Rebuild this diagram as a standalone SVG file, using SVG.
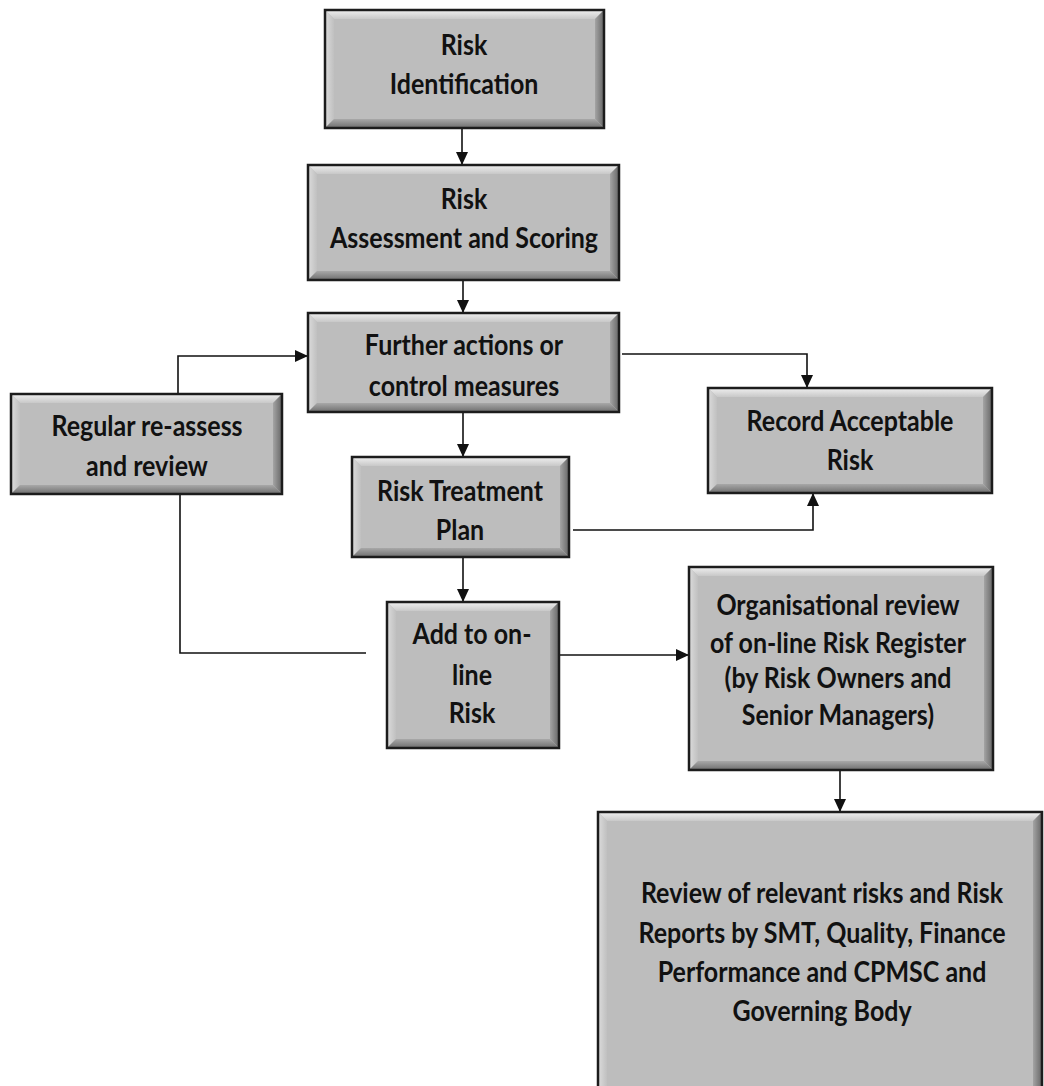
<svg xmlns="http://www.w3.org/2000/svg" width="1044" height="1086" viewBox="0 0 1044 1086">
<defs>
<linearGradient id="gTop" x1="0" y1="0" x2="0" y2="1"><stop offset="0" stop-color="#f0f0f0"/><stop offset="1" stop-color="#c8c8c8"/></linearGradient>
<linearGradient id="gBot" x1="0" y1="0" x2="0" y2="1"><stop offset="0" stop-color="#a8a8a8"/><stop offset="1" stop-color="#6e6e6e"/></linearGradient>
<linearGradient id="gLeft" x1="0" y1="0" x2="1" y2="0"><stop offset="0" stop-color="#dcdcdc"/><stop offset="1" stop-color="#c0c0c0"/></linearGradient>
<linearGradient id="gRight" x1="0" y1="0" x2="1" y2="0"><stop offset="0" stop-color="#a4a4a4"/><stop offset="1" stop-color="#666666"/></linearGradient>
<marker id="ah" markerUnits="userSpaceOnUse" markerWidth="14" markerHeight="14" viewBox="0 0 14 14" refX="13" refY="7" orient="auto">
<path d="M0,1 L13,7 L0,13 Z" fill="#111"/>
</marker>
</defs>
<style>
.face{fill:#bdbdbd}
.bt{fill:url(#gTop)}
.bb{fill:url(#gBot)}
.bl{fill:url(#gLeft)}
.br{fill:url(#gRight)}
.frame{fill:none;stroke:#1c1c1c;stroke-width:2.5}
.lbl{font-family:Lato,"Open Sans","Liberation Sans",sans-serif;font-weight:700;font-size:25px;fill:#111;text-anchor:middle}
.con{fill:none;stroke:#111;stroke-width:1.6}
</style>

<g id="connectors">
<path class="con" d="M462,128 V165" marker-end="url(#ah)"/>
<path class="con" d="M463,280 V313" marker-end="url(#ah)"/>
<path class="con" d="M463,412 V457" marker-end="url(#ah)"/>
<path class="con" d="M463,557 V602" marker-end="url(#ah)"/>
<path class="con" d="M622,354 H807 V388" marker-end="url(#ah)"/>
<path class="con" d="M573,530 H813 V493" marker-end="url(#ah)"/>
<path class="con" d="M178,394 V356 H308" marker-end="url(#ah)"/>
<path class="con" d="M180,494 V653 H366"/>
<path class="con" d="M559,655 H689" marker-end="url(#ah)"/>
<path class="con" d="M840,770 V812" marker-end="url(#ah)"/>
</g>

<g id="risk-identification">
<rect class="face" x="325" y="10" width="279" height="118"/>
<polygon class="bt" points="325,10 604,10 595,19 334,19"/>
<polygon class="bl" points="325,10 334,19 334,119 325,128"/>
<polygon class="bb" points="325,128 334,119 595,119 604,128"/>
<polygon class="br" points="604,10 604,128 595,119 595,19"/>
<rect class="frame" x="325" y="10" width="279" height="118"/>
<text class="lbl" transform="translate(464,55) scale(1,1.12)">Risk</text>
<text class="lbl" transform="translate(464,94) scale(1,1.12)">Identification</text>
</g>

<g id="risk-assessment">
<rect class="face" x="308" y="165" width="311" height="115"/>
<polygon class="bt" points="308,165 619,165 610,174 317,174"/>
<polygon class="bl" points="308,165 317,174 317,271 308,280"/>
<polygon class="bb" points="308,280 317,271 610,271 619,280"/>
<polygon class="br" points="619,165 619,280 610,271 610,174"/>
<rect class="frame" x="308" y="165" width="311" height="115"/>
<text class="lbl" transform="translate(464,209) scale(1,1.12)">Risk</text>
<text class="lbl" transform="translate(464,248) scale(1,1.12)">Assessment and Scoring</text>
</g>

<g id="further-actions">
<rect class="face" x="308" y="313" width="311" height="99"/>
<polygon class="bt" points="308,313 619,313 610,322 317,322"/>
<polygon class="bl" points="308,313 317,322 317,403 308,412"/>
<polygon class="bb" points="308,412 317,403 610,403 619,412"/>
<polygon class="br" points="619,313 619,412 610,403 610,322"/>
<rect class="frame" x="308" y="313" width="311" height="99"/>
<text class="lbl" transform="translate(464,355) scale(1,1.12)">Further actions or</text>
<text class="lbl" transform="translate(464,396) scale(1,1.12)">control measures</text>
</g>

<g id="regular-reassess">
<rect class="face" x="11" y="394" width="271" height="100"/>
<polygon class="bt" points="11,394 282,394 273,403 20,403"/>
<polygon class="bl" points="11,394 20,403 20,485 11,494"/>
<polygon class="bb" points="11,494 20,485 273,485 282,494"/>
<polygon class="br" points="282,394 282,494 273,485 273,403"/>
<rect class="frame" x="11" y="394" width="271" height="100"/>
<text class="lbl" transform="translate(147,436) scale(1,1.12)">Regular re-assess</text>
<text class="lbl" transform="translate(147,476) scale(1,1.12)">and review</text>
</g>

<g id="record-acceptable">
<rect class="face" x="708" y="388" width="284" height="105"/>
<polygon class="bt" points="708,388 992,388 983,397 717,397"/>
<polygon class="bl" points="708,388 717,397 717,484 708,493"/>
<polygon class="bb" points="708,493 717,484 983,484 992,493"/>
<polygon class="br" points="992,388 992,493 983,484 983,397"/>
<rect class="frame" x="708" y="388" width="284" height="105"/>
<text class="lbl" transform="translate(850,431) scale(1,1.12)">Record Acceptable</text>
<text class="lbl" transform="translate(850,470) scale(1,1.12)">Risk</text>
</g>

<g id="risk-treatment">
<rect class="face" x="352" y="457" width="217" height="100"/>
<polygon class="bt" points="352,457 569,457 560,466 361,466"/>
<polygon class="bl" points="352,457 361,466 361,548 352,557"/>
<polygon class="bb" points="352,557 361,548 560,548 569,557"/>
<polygon class="br" points="569,457 569,557 560,548 560,466"/>
<rect class="frame" x="352" y="457" width="217" height="100"/>
<text class="lbl" transform="translate(460,501) scale(1,1.12)">Risk Treatment</text>
<text class="lbl" transform="translate(460,540) scale(1,1.12)">Plan</text>
</g>

<g id="add-online">
<rect class="face" x="387" y="602" width="172" height="146"/>
<polygon class="bt" points="387,602 559,602 550,611 396,611"/>
<polygon class="bl" points="387,602 396,611 396,739 387,748"/>
<polygon class="bb" points="387,748 396,739 550,739 559,748"/>
<polygon class="br" points="559,602 559,748 550,739 550,611"/>
<rect class="frame" x="387" y="602" width="172" height="146"/>
<text class="lbl" transform="translate(472,644) scale(1,1.12)">Add to on-</text>
<text class="lbl" transform="translate(472,685) scale(1,1.12)">line</text>
<text class="lbl" transform="translate(472,723) scale(1,1.12)">Risk</text>
</g>

<g id="organisational-review">
<rect class="face" x="689" y="567" width="304" height="203"/>
<polygon class="bt" points="689,567 993,567 984,576 698,576"/>
<polygon class="bl" points="689,567 698,576 698,761 689,770"/>
<polygon class="bb" points="689,770 698,761 984,761 993,770"/>
<polygon class="br" points="993,567 993,770 984,761 984,576"/>
<rect class="frame" x="689" y="567" width="304" height="203"/>
<text class="lbl" transform="translate(838,615) scale(1,1.12)">Organisational review</text>
<text class="lbl" transform="translate(838,653) scale(1,1.12)">of on-line Risk Register</text>
<text class="lbl" transform="translate(838,688) scale(1,1.12)">(by Risk Owners and</text>
<text class="lbl" transform="translate(838,725) scale(1,1.12)">Senior Managers)</text>
</g>

<g id="review-relevant-risks">
<rect class="face" x="598" y="812" width="444" height="290"/>
<polygon class="bt" points="598,812 1042,812 1033,821 607,821"/>
<polygon class="bl" points="598,812 607,821 607,1093 598,1102"/>
<polygon class="br" points="1042,812 1042,1102 1033,1093 1033,821"/>
<rect class="frame" x="598" y="812" width="444" height="290"/>
<text class="lbl" transform="translate(822,903) scale(1,1.12)">Review of relevant risks and Risk</text>
<text class="lbl" transform="translate(822,943) scale(1,1.12)">Reports by SMT, Quality, Finance</text>
<text class="lbl" transform="translate(822,982) scale(1,1.12)">Performance and CPMSC and</text>
<text class="lbl" transform="translate(822,1021) scale(1,1.12)">Governing Body</text>
</g>
</svg>
